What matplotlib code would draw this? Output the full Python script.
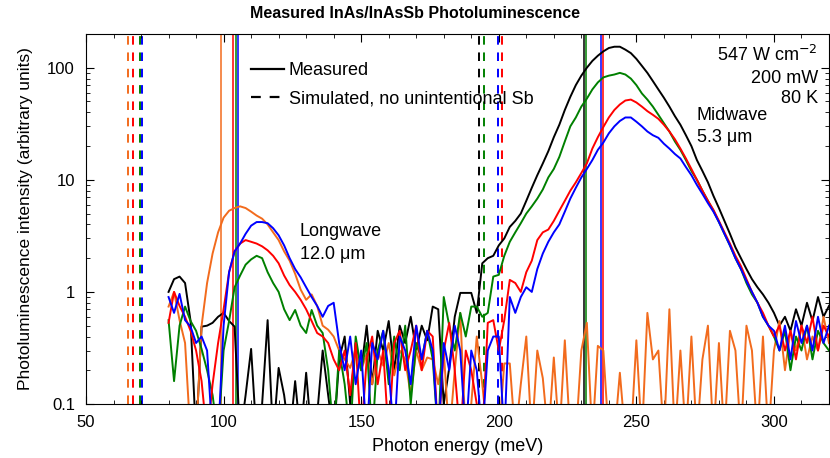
import numpy as np
import matplotlib
matplotlib.use("Agg")
import matplotlib.pyplot as plt
from matplotlib.lines import Line2D
from matplotlib.ticker import MultipleLocator, LogLocator, NullFormatter

plt.rcParams['font.family'] = ['Liberation Sans', 'DejaVu Sans']

# photon energy grid (meV)
energy = np.arange(80, 321, 2)

# measured PL spectra (values < 0.1 fall off the axis)
pl_black = [1.0, 1.3, 1.37, 1.2, 0.55, 0.05, 0.49, 0.5, 0.53, 0.6, 0.65, 0.55, 0.49, 0.05, 0.12, 0.31,
            0.05, 0.1, 0.56, 0.05, 0.21, 0.12, 0.05, 0.16, 0.05, 0.19, 0.05, 0.08, 0.3, 0.12, 0.05,
            0.25, 0.4, 0.1, 0.35, 0.2, 0.5, 0.15, 0.45, 0.3, 0.55, 0.2, 0.5, 0.35, 0.6, 0.3, 0.5,
            0.37, 0.74, 0.7, 0.1, 0.21, 0.6, 0.98, 0.98, 0.98,
            0.65, 1.8, 2.0, 2.1, 2.6, 3.0, 3.8, 4.3, 5.0, 6.5, 8.5, 11, 14, 18, 24, 31, 42, 55, 70, 85,
            100, 115, 128, 140, 150, 154, 154, 145, 135, 120, 104, 90, 76, 64, 54, 45, 37, 31, 25, 20,
            15, 12, 9.5, 7.2, 5.6, 4.3, 3.3, 2.5, 2.0, 1.6, 1.3, 1.1, 0.95, 0.8, 0.65, 0.5, 0.6, 0.45,
            0.7, 0.5, 0.8, 0.55, 0.9, 0.6, 0.75]
pl_green = [0.56, 0.16, 0.5, 0.74, 0.55, 0.45, 0.31, 0.2, 0.12, 0.05, 0.3, 0.55, 1.1, 1.4, 1.75, 1.95,
            2.1, 2.0, 1.5, 1.2, 1.0, 0.7, 0.56, 0.69, 0.5, 0.43, 0.69, 0.5, 0.43, 0.2, 0.05,
            0.3, 0.15, 0.05, 0.4, 0.2, 0.35, 0.05, 0.3, 0.45, 0.15, 0.4, 0.2, 0.5, 0.1, 0.35, 0.25,
            0.45, 0.25, 0.05, 0.9, 0.5, 0.3, 0.65, 0.4, 0.74,
            0.74, 0.6, 0.65, 1.37, 1.42, 2.1, 2.8, 3.4, 4.1, 5.0, 5.8, 6.8, 8.2, 10.5, 12.5, 16, 22, 30,
            36, 45, 53, 64, 74, 82, 85, 87, 90, 87, 80, 70, 59, 52, 45, 38, 32, 27, 22, 18.5, 15, 12,
            10, 8, 6.5, 5.3, 4.2, 3.3, 2.6, 2.0, 1.6, 1.2, 0.95, 0.8, 0.6, 0.5, 0.4, 0.3, 0.45, 0.2,
            0.4, 0.3, 0.5, 0.25, 0.45, 0.35, 0.3]
pl_red = [0.53, 1.0, 0.75, 0.6, 0.45, 0.3, 0.16, 0.05, 0.15, 0.35, 0.7, 1.5, 2.3, 2.7, 2.9, 2.8,
          2.7, 2.55, 2.35, 2.1, 1.8, 1.4, 1.15, 1.0, 0.85, 0.7, 0.55, 0.43, 0.4, 0.35, 0.25,
          0.2, 0.3, 0.12, 0.35, 0.05, 0.25, 0.4, 0.15, 0.3, 0.05, 0.35, 0.45, 0.2, 0.3, 0.5, 0.2,
          0.45, 0.4, 0.05, 0.3, 0.53, 0.2, 0.05, 0.3, 0.2,
          0.1, 0.05, 0.53, 0.56, 0.3, 0.56, 1.28, 1.2, 1.0, 1.5, 1.9, 2.9, 3.4, 3.6, 4.3, 5.3, 6.5, 8,
          9.5, 11.5, 14, 19, 24, 29.6, 36, 42, 47, 51, 52, 49, 45, 41, 38, 35, 31, 27, 23, 19, 15.5,
          12.5, 10, 8, 6.5, 5.4, 4.3, 3.4, 2.7, 2.1, 1.7, 1.3, 1.0, 0.8, 0.65, 0.5, 0.4, 0.5, 0.3,
          0.45, 0.25, 0.5, 0.35, 0.6, 0.3, 0.5, 0.4]
pl_blue = [0.9, 0.65, 0.96, 0.56, 0.49, 0.35, 0.4, 0.3, 0.05, 0.05, 0.5, 1.5, 2.3, 2.7, 3.3, 3.9,
           4.2, 4.2, 4.1, 3.7, 3.2, 2.6, 2.0, 1.6, 1.35, 1.1, 0.9, 0.75, 0.6, 0.75, 0.8,
           0.35, 0.2, 0.4, 0.15, 0.3, 0.05, 0.35, 0.25, 0.45, 0.2, 0.05, 0.4, 0.3, 0.15, 0.5, 0.25,
           0.45, 0.3, 0.05, 0.35, 0.2, 0.5, 0.3, 0.05, 0.3,
           0.2, 0.05, 0.3, 0.4, 0.4, 0.05, 0.9, 0.65, 0.9, 1.1, 1.0, 1.6, 2.2, 2.8, 3.4, 4.0, 5.2, 6.8,
           8.5, 10.5, 12.5, 15, 18.5, 21.5, 26, 30, 33.5, 36, 36, 33, 30, 27, 25, 23.7, 21, 19, 17,
           15.5, 13, 11, 9, 7.5, 6.2, 5.2, 4.2, 3.3, 2.6, 2.0, 1.6, 1.25, 1.0, 0.8, 0.6, 0.5, 0.45,
           0.3, 0.5, 0.25, 0.55, 0.35, 0.5, 0.3, 0.6, 0.35, 0.5]
pl_orange = [0.74, 1.0, 0.56, 0.35, 0.05, 0.05, 0.5, 1.2, 2.2, 3.4, 4.6, 5.3, 5.6, 5.8, 5.6, 5.2,
             4.8, 4.5, 4.0, 3.4, 2.9, 2.3, 1.9, 1.45, 1.05, 0.85, 0.95, 0.75, 0.5, 0.46, 0.4,
             0.3, 0.25, 0.21, 0.3, 0.2, 0.28, 0.15, 0.3, 0.22, 0.35, 0.18, 0.3, 0.25, 0.12, 0.3, 0.2,
             0.26, 0.25, 0.15, 0.3, 0.05, 0.2, 0.65, 0.05, 0.1,
             0.4, 0.15, 0.05, 0.05, 0.05, 0.23, 0.23, 0.05, 0.15, 0.4, 0.05, 0.3, 0.17, 0.05, 0.26,
             0.05, 0.37, 0.05, 0.05, 0.3, 0.53, 0.05, 0.33, 0.3, 0.05, 0.05, 0.19, 0.05, 0.05, 0.37,
             0.05, 0.65, 0.25, 0.3, 0.05, 0.7, 0.05, 0.3, 0.05, 0.4, 0.05, 0.25, 0.5, 0.05, 0.35,
             0.05, 0.45, 0.3, 0.05, 0.5, 0.3, 0.05, 0.4, 0.05, 0.3, 0.55, 0.2, 0.45, 0.3, 0.5, 0.25,
             0.4, 0.3, 0.6, 0.35]

# band-gap markers (meV): measured (solid) and simulated (dashed)
colors = {'black': 'black', 'green': '#008000', 'red': '#ff0000', 'blue': '#0000ff', 'orange': '#f26b1d'}
meas_lines = [('orange', 98.9), ('red', 103.5), ('green', 104.4), ('blue', 105.2),
              ('black', 231.0), ('green', 231.6), ('blue', 237.3), ('red', 238.0)]
sim_lines = [('orange', 65.2), ('red', 67.2), ('green', 69.6), ('blue', 70.3),
             ('black', 192.8), ('green', 194.5), ('blue', 199.7), ('red', 201.3)]
dash = (0, (4.4, 4.0))

fig = plt.figure(figsize=(8.3, 4.58), dpi=100)
ax = fig.add_axes([86/830, 54/458, 743/830, 370/458])

for c, e in meas_lines:
    ax.axvline(e, color=colors[c], lw=1.1, zorder=1)
for c, e in sim_lines:
    ax.axvline(e, color=colors[c], lw=1.4, ls=dash, zorder=1)

ax.plot(energy, pl_black, color=colors['black'], lw=1.4, zorder=2)
ax.plot(energy, pl_orange, color=colors['orange'], lw=1.4, zorder=2)
ax.plot(energy, pl_green, color=colors['green'], lw=1.4, zorder=3)
ax.plot(energy, pl_red, color=colors['red'], lw=1.4, zorder=3)
ax.plot(energy, pl_blue, color=colors['blue'], lw=1.4, zorder=3)

ax.set_yscale('log')
ax.set_xlim(50, 320)
ax.set_ylim(0.1, 200)
ax.xaxis.set_major_locator(MultipleLocator(50))
ax.xaxis.set_minor_locator(MultipleLocator(10))
ax.yaxis.set_minor_locator(LogLocator(base=10, subs=np.arange(2, 10), numticks=20))
ax.yaxis.set_minor_formatter(NullFormatter())
ax.set_yticks([0.1, 1, 10, 100])
ax.set_yticklabels(['0.1', '1', '10', '100'])
ax.tick_params(which='both', direction='in', top=True, right=True, labelsize=12)
ax.tick_params(which='major', length=6)
ax.tick_params(which='minor', length=3)
ax.tick_params(axis='x', pad=8)
ax.tick_params(axis='y', pad=8)

ax.set_xlabel('Photon energy (meV)', fontsize=13, labelpad=6)
ax.set_ylabel('Photoluminescence intensity (arbitrary units)', fontsize=12.5, labelpad=10)
fig.text(0.5, 1 - 14/458, 'Measured InAs/InAsSb Photoluminescence', ha='center', va='center',
         fontsize=11.5, fontweight='bold')

handles = [Line2D([], [], color='black', lw=1.6),
           Line2D([], [], color='black', lw=1.6, ls=dash)]
ax.legend(handles, ['Measured', 'Simulated, no unintentional Sb'], loc='upper left',
          bbox_to_anchor=(0.200, 0.967), frameon=False, fontsize=13, handlelength=1.85,
          handletextpad=0.25, labelspacing=0.6)

ax.text(0.985, 0.943, '547 W cm$^{-2}$', transform=ax.transAxes, ha='right', va='center', fontsize=13)
ax.text(0.985, 0.881, '200 mW', transform=ax.transAxes, ha='right', va='center', fontsize=13)
ax.text(0.985, 0.827, '80 K', transform=ax.transAxes, ha='right', va='center', fontsize=13)
ax.text(0.822, 0.781, 'Midwave', transform=ax.transAxes, ha='left', va='center', fontsize=13)
ax.text(0.822, 0.719, '5.3 \u03bcm', transform=ax.transAxes, ha='left', va='center', fontsize=13)
ax.text(0.288, 0.465, 'Longwave', transform=ax.transAxes, ha='left', va='center', fontsize=13)
ax.text(0.288, 0.403, '12.0 \u03bcm', transform=ax.transAxes, ha='left', va='center', fontsize=13)

fig.savefig('out.png', dpi=100)
